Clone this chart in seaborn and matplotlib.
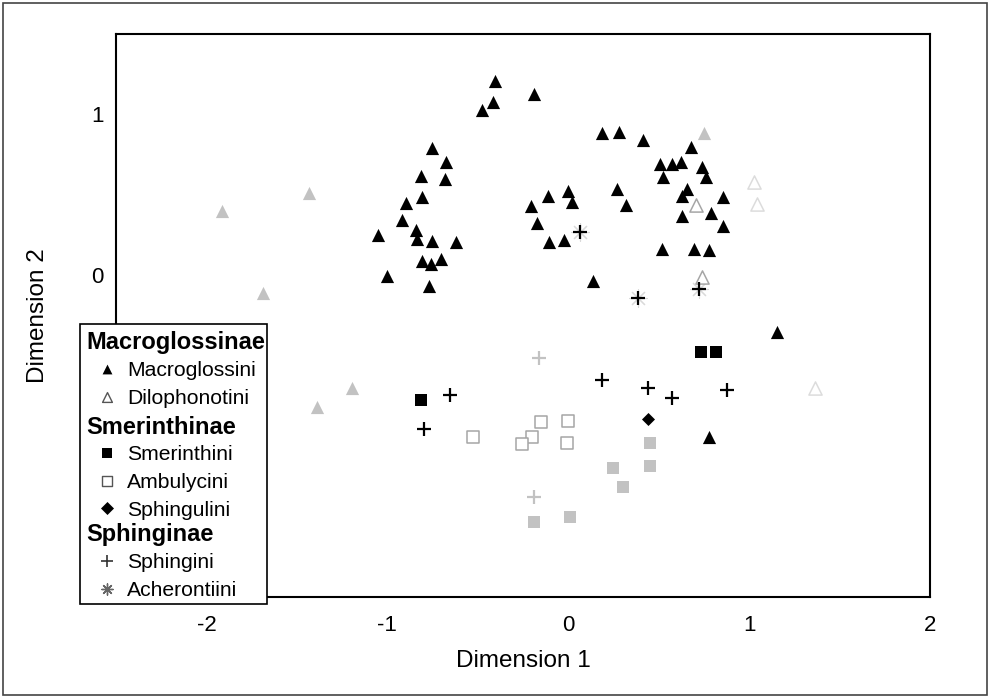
import matplotlib
matplotlib.use("Agg")
import matplotlib.pyplot as plt
import seaborn as sns
import pandas as pd
from matplotlib.patches import Rectangle

# ---------------- data ----------------
# Macroglossinae / Macroglossini - black filled triangles
macro_x = [-0.407, -0.418, -0.474, -0.751, -0.673, -0.812, -0.679, -0.806, -0.895, -0.917,
           -1.050, -0.839, -0.834, -0.751, -0.618, -0.806, -0.756, -0.701, -1.000, -0.767,
           -0.191, 0.186, 0.280, 0.413, 0.679, 0.507, 0.573, 0.623, 0.740, 0.762,
           0.524, -0.114, -0.003, 0.019, -0.208, 0.269, 0.319, 0.657, 0.629, 0.856,
           0.789, 0.629, 0.856, -0.175, -0.108, -0.025, 0.518, 0.695, 0.778, 0.136,
           1.155, 0.778]
macro_y = [1.205, 1.075, 1.025, 0.789, 0.702, 0.615, 0.596, 0.484, 0.447, 0.342,
           0.248, 0.280, 0.224, 0.211, 0.205, 0.087, 0.068, 0.099, -0.006, -0.068,
           1.124, 0.882, 0.888, 0.839, 0.795, 0.689, 0.689, 0.702, 0.671, 0.609,
           0.609, 0.491, 0.522, 0.453, 0.429, 0.534, 0.435, 0.534, 0.491, 0.484,
           0.385, 0.366, 0.304, 0.323, 0.205, 0.217, 0.161, 0.161, 0.155, -0.037,
           -0.354, -1.006]
# Macroglossini - grey filled triangles
macro_g_x = [-1.914, -1.432, -1.687, -1.194, -1.388, 0.751]
macro_g_y = [0.398, 0.509, -0.112, -0.702, -0.820, 0.882]
# Dilophonotini - open triangles (mid grey / light grey outline)
dilo_x = [0.706, 0.740]
dilo_y = [0.435, -0.012]
dilo_l_x = [1.028, 1.044, 1.366]
dilo_l_y = [0.578, 0.441, -0.702]
# Smerinthini - black filled squares / grey filled squares
smer_x = [0.734, 0.817, -0.812]
smer_y = [-0.478, -0.478, -0.776]
smer_g_x = [0.452, 0.452, 0.247, 0.302, -0.191, 0.008]
smer_g_y = [-1.043, -1.186, -1.199, -1.317, -1.534, -1.503]
# Ambulycini - open squares
ambu_x = [-0.524, -0.152, -0.003, -0.202, -0.258, -0.008]
ambu_y = [-1.006, -0.913, -0.907, -1.006, -1.050, -1.043]
# Sphingulini - diamond
sphl_x = [0.440]
sphl_y = [-0.894]
# Sphingini - black plus / grey plus
sphi_x = [0.064, 0.385, 0.723, 0.186, 0.440, 0.573, 0.878, -0.651, -0.795]
sphi_y = [0.267, -0.143, -0.087, -0.652, -0.702, -0.764, -0.714, -0.745, -0.957]
sphi_g_x = [-0.163, -0.191]
sphi_g_y = [-0.516, -1.379]
# Acherontiini - faint asterisks
ache_x = [0.064, 0.385, 0.723]
ache_y = [0.267, -0.143, -0.087]

x_ticks = [-2, -1, 0, 1, 2]
y_ticks = [0, 1]
x_label = "Dimension 1"
y_label = "Dimension 2"

legend_rows = [("Macroglossinae", None), ("Macroglossini", "macro"), ("Dilophonotini", "dilo"),
               ("Smerinthinae", None), ("Smerinthini", "smer"), ("Ambulycini", "ambu"),
               ("Sphingulini", "sphl"), ("Sphinginae", None), ("Sphingini", "sphi"),
               ("Acherontiini", "ache")]

# ---------------- styling ----------------
sns.set_theme(style="white")
plt.rcParams['font.family'] = ['Liberation Sans', 'DejaVu Sans']

GREY = "#c2c2c2"
MID = "#a6a6a6"
LIGHT = "#dcdcdc"
AST = (8, 2, 0)

fig = plt.figure(figsize=(9.9, 6.98), dpi=100)
fig.patch.set_facecolor("white")
ax = fig.add_axes([116/990, 101/698, 814/990, 563/698])

def draw(xs, ys, **kw):
    df = pd.DataFrame({"x": xs, "y": ys})
    sns.scatterplot(data=df, x="x", y="y", ax=ax, legend=False, **kw)

draw(ache_x, ache_y, marker=AST, s=160, color="#dadada", linewidth=0.8, zorder=2)
draw(macro_g_x, macro_g_y, marker="^", s=90, color=GREY, edgecolor=GREY, linewidth=0, zorder=3)
draw(dilo_l_x, dilo_l_y, marker="^", s=90, color="white", edgecolor=LIGHT, linewidth=1.1, zorder=3)
draw(dilo_x, dilo_y, marker="^", s=90, color="white", edgecolor=MID, linewidth=1.1, zorder=3)
draw(macro_x, macro_y, marker="^", s=90, color="black", edgecolor="black", linewidth=0, zorder=4)
draw(smer_g_x, smer_g_y, marker="s", s=74, color=GREY, edgecolor=GREY, linewidth=0, zorder=3)
draw(ambu_x, ambu_y, marker="s", s=74, color="white", edgecolor=MID, linewidth=1.1, zorder=3)
draw(smer_x, smer_y, marker="s", s=74, color="black", edgecolor="black", linewidth=0, zorder=4)
draw(sphl_x, sphl_y, marker="D", s=44, color="black", edgecolor="black", linewidth=0, zorder=4)
draw(sphi_g_x, sphi_g_y, marker="+", s=90, color=GREY, linewidth=1.6, zorder=3)
draw(sphi_x, sphi_y, marker="+", s=90, color="black", linewidth=1.6, zorder=5)

ax.set_xlim(-2.5, 2.0)
ax.set_ylim(-2.0, 1.5)
ax.set_xticks(x_ticks)
ax.set_yticks(y_ticks)
ax.set_xticklabels([str(t) for t in x_ticks])
ax.set_yticklabels([str(t) for t in y_ticks])
ax.tick_params(axis="both", direction="in", length=4, width=1, color="black",
               labelsize=16, labelcolor="black")
ax.tick_params(axis="x", pad=13)
ax.tick_params(axis="y", pad=9)
for sp in ax.spines.values():
    sp.set_visible(True)
    sp.set_color("black")
    sp.set_linewidth(1.5)
ax.set_xlabel(x_label, fontsize=17.5, color="black")
ax.set_ylabel(y_label, fontsize=17.5, color="black")
ax.xaxis.set_label_coords(0.5, -0.095)
ax.yaxis.set_label_coords(-0.082, 0.5)
ax.set_facecolor("white")
ax.grid(False)

# ---------------- legend (drawn in pixel space of an overlay) ----------------
lg = fig.add_axes([0, 0, 1, 1], zorder=10)
lg.set_xlim(0, 990)
lg.set_ylim(698, 0)
lg.axis("off")
lg.patch.set_alpha(0)
lg.add_patch(Rectangle((80, 324), 187, 280, facecolor="white", edgecolor="black", linewidth=1.2))
row_y = [342, 369, 397, 426, 453, 481, 508, 534, 561, 589]
leg_style = {
    "macro": dict(marker="^", s=50, color="black", linewidths=0),
    "dilo": dict(marker="^", s=50, facecolor="white", edgecolor="#555555", linewidths=1.0),
    "smer": dict(marker="s", s=50, color="black", linewidths=0),
    "ambu": dict(marker="s", s=50, facecolor="white", edgecolor="#555555", linewidths=1.0),
    "sphl": dict(marker="D", s=44, color="black", linewidths=0),
    "sphi": dict(marker="+", s=65, color="#333333", linewidths=1.2),
    "ache": dict(marker=AST, s=65, color="#666666", linewidths=1.0),
}
for (label, key), yy in zip(legend_rows, row_y):
    if key is None:
        lg.text(86, yy + 7.5, label, fontsize=17, fontweight="bold", ha="left", va="baseline", color="black")
    else:
        lg.scatter([107], [yy], **leg_style[key])
        lg.text(127, yy + 7.5, label, fontsize=15.2, ha="left", va="baseline", color="black")

# outer frame of the picture
fig.add_artist(Rectangle((0.003, 0.004), 0.994, 0.992, transform=fig.transFigure,
                         fill=False, edgecolor="#444444", linewidth=1.2))

fig.savefig("out.png", dpi=100, facecolor="white")
